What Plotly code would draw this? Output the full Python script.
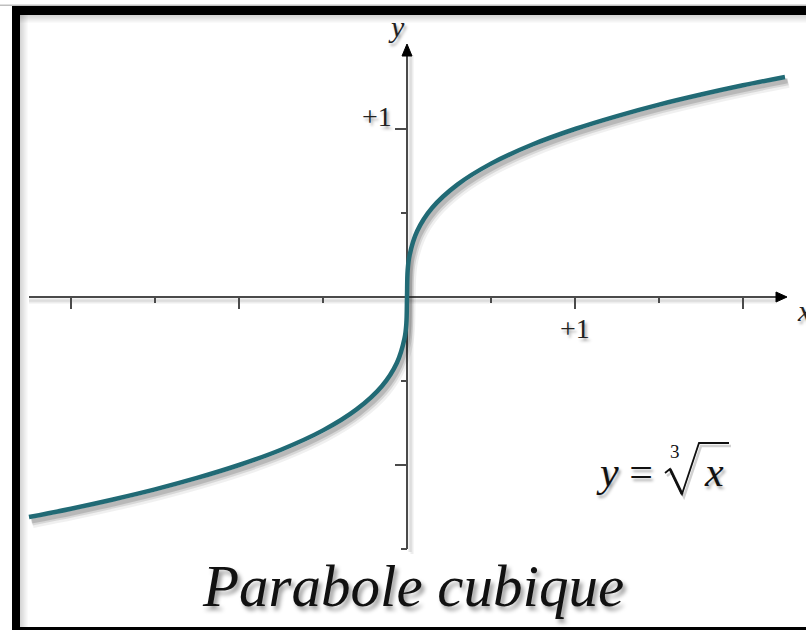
import numpy as np
import plotly.graph_objects as go

# Curve points (y = cube root of x)
curve_x = [-2.25, -2.0, -1.75, -1.5, -1.25, -1.0, -0.75, -0.5, -0.3, -0.15, -0.06, -0.015, -0.004,
           0.0, 0.004, 0.015, 0.06, 0.15, 0.3, 0.5, 0.75, 1.0, 1.25, 1.5, 1.75, 2.0, 2.25]
curve_y = [-1.31, -1.26, -1.205, -1.145, -1.077, -1.0, -0.909, -0.794, -0.669, -0.531, -0.391, -0.247, -0.159,
           0.0, 0.159, 0.247, 0.391, 0.531, 0.669, 0.794, 0.909, 1.0, 1.077, 1.145, 1.205, 1.26, 1.31]

x_ticks_long = [-2, -1, 1, 2]
x_ticks_short = [-1.5, -0.5, 0.5, 1.5]
y_ticks_long = [-1, 1]
y_ticks_short = [-1.5, -0.5, 0.5]
x_tick_label = "+1"
y_tick_label = "+1"
title_text = "Parabole cubique"

W, H = 806, 630
ox, oy, s = 407, 297, 168.0
xr = [-ox / s, (W - ox) / s]
yr = [(oy - H) / s, oy / s]
px = 1 / s  # one pixel in data units

def dx(p):
    return (p - ox) / s

def dy(p):
    return (oy - p) / s

FONT = "Liberation Serif"
axis_col = "#4a4a4a"
curve_col = "#216a75"

fig = go.Figure()

# curve shadow
cx = np.array(curve_x); cy = np.array(curve_y)
for off, a, w in [(6, 0.06, 10), (5, 0.10, 7), (4, 0.14, 5)]:
    fig.add_trace(go.Scatter(x=cx + off * 0.6 * px, y=cy - off * px, mode="lines",
                             line=dict(color=f"rgba(0,0,0,{a})", width=w, shape="spline"),
                             hoverinfo="skip", showlegend=False))
fig.add_trace(go.Scatter(x=curve_x, y=curve_y, mode="lines",
                         line=dict(color=curve_col, width=4.5, shape="spline"),
                         hoverinfo="skip", showlegend=False))

shapes = []
# axis shadows
for off, a in [(5, 0.07), (3, 0.10)]:
    shapes.append(dict(type="line", xref="x", yref="y", x0=-2.25, x1=2.2, y0=-off * px, y1=-off * px,
                       line=dict(color=f"rgba(0,0,0,{a})", width=3), layer="below"))
    shapes.append(dict(type="line", xref="x", yref="y", x0=off * px, x1=off * px, y0=-1.5 - off * px, y1=1.44,
                       line=dict(color=f"rgba(0,0,0,{a})", width=3), layer="below"))
# axes
shapes.append(dict(type="line", xref="x", yref="y", x0=-2.25, x1=2.21, y0=0, y1=0,
                   line=dict(color=axis_col, width=2), layer="below"))
shapes.append(dict(type="line", xref="x", yref="y", x0=0, x1=0, y0=-1.5, y1=1.45,
                   line=dict(color=axis_col, width=2), layer="below"))
# arrow heads
xt = dx(787)
shapes.append(dict(type="path", xref="x", yref="y",
                   path=f"M {xt} 0 L {xt - 11*px} {5*px} L {xt - 11*px} {-5*px} Z",
                   fillcolor="black", line=dict(color="black", width=1)))
yt = dy(44)
shapes.append(dict(type="path", xref="x", yref="y",
                   path=f"M 0 {yt} L {-5*px} {yt - 12*px} L {5*px} {yt - 12*px} Z",
                   fillcolor="black", line=dict(color="black", width=1)))
# ticks
for t in x_ticks_long:
    shapes.append(dict(type="line", xref="x", yref="y", x0=t, x1=t, y0=0, y1=-12 * px,
                       line=dict(color=axis_col, width=2), layer="below"))
for t in x_ticks_short:
    shapes.append(dict(type="line", xref="x", yref="y", x0=t, x1=t, y0=0, y1=-6 * px,
                       line=dict(color=axis_col, width=2), layer="below"))
for t in y_ticks_long:
    shapes.append(dict(type="line", xref="x", yref="y", x0=-12 * px, x1=0, y0=t, y1=t,
                       line=dict(color=axis_col, width=2), layer="below"))
for t in y_ticks_short:
    shapes.append(dict(type="line", xref="x", yref="y", x0=-6 * px, x1=0, y0=t, y1=t,
                       line=dict(color=axis_col, width=2), layer="below"))

# frame (black border top/left/bottom) with inner shadow
def pxr(x0, y0, x1, y1, color):
    return dict(type="rect", xref="paper", yref="paper",
                x0=x0 / W, x1=x1 / W, y0=1 - y1 / H, y1=1 - y0 / H,
                fillcolor=color, line=dict(width=0), layer="above")

for i in range(8):
    a = 0.16 * (1 - i / 8)
    shapes.append(pxr(20, 15 + i, W, 16 + i, f"rgba(0,0,0,{a:.3f})"))
    shapes.append(pxr(20 + i, 15, 21 + i, 627, f"rgba(0,0,0,{a:.3f})"))
shapes.append(pxr(12, 6, W, 15, "black"))
shapes.append(pxr(12, 6, 20, 630, "black"))
shapes.append(pxr(12, 627, W, 630, "black"))
shapes.append(pxr(0, 4.5, W, 6, "rgba(0,0,0,0.25)"))

shadow = "2px 3px 3px rgba(0,0,0,0.35)"
ann = []
ann.append(dict(x=1, y=dy(328), xref="x", yref="y", text=x_tick_label, showarrow=False,
                font=dict(family=FONT, size=28, color="#222", shadow=shadow)))
ann.append(dict(x=dx(394), y=dy(116), xref="x", yref="y", text=y_tick_label, showarrow=False,
                xanchor="right", font=dict(family=FONT, size=28, color="#222", shadow=shadow)))
ann.append(dict(x=dx(396), y=dy(26), xref="x", yref="y", text="<i>y</i>", showarrow=False,
                font=dict(family=FONT, size=30, color="#222", shadow=shadow)))
ann.append(dict(x=dx(795), y=dy(310), xref="x", yref="y", text="<i>x</i>", showarrow=False,
                xanchor="left", font=dict(family=FONT, size=30, color="#222", shadow=shadow)))

# formula y = ∛x, built from pieces (radical sign drawn as a path)
ff = dict(family=FONT, size=42, color="#111", shadow=shadow)
ann.append(dict(x=dx(655), y=dy(472), xref="x", yref="y", text="<i>y</i> =", showarrow=False,
                xanchor="right", font=ff))
ann.append(dict(x=dx(675), y=dy(451), xref="x", yref="y", text="3", showarrow=False,
                font=dict(family=FONT, size=19, color="#111")))
ann.append(dict(x=dx(702), y=dy(472), xref="x", yref="y", text="<i>x</i>", showarrow=False,
                xanchor="left", font=ff))
rad = [(665, 473), (670, 469), (682, 494), (699, 443), (729, 443)]
rad_shadow = " ".join(("M" if i == 0 else "L") + f" {dx(a + 2)} {dy(b + 3)}" for i, (a, b) in enumerate(rad))
rad_path = " ".join(("M" if i == 0 else "L") + f" {dx(a)} {dy(b)}" for i, (a, b) in enumerate(rad))
shapes.append(dict(type="path", xref="x", yref="y", path=rad_shadow,
                   line=dict(color="rgba(0,0,0,0.18)", width=2.5)))
shapes.append(dict(type="path", xref="x", yref="y", path=rad_path,
                   line=dict(color="#111", width=1.8)))
shapes.append(dict(type="line", xref="x", yref="y", x0=dx(670), x1=dx(682), y0=dy(469), y1=dy(494),
                   line=dict(color="#111", width=2.8)))

ann.append(dict(x=dx(413), y=dy(586), xref="x", yref="y", text="<i>" + title_text + "</i>",
                showarrow=False, font=dict(family=FONT, size=59, color="#111",
                                           shadow="3px 4px 4px rgba(0,0,0,0.4)")))

fig.update_layout(
    width=W, height=H, margin=dict(l=0, r=0, t=0, b=0),
    paper_bgcolor="white", plot_bgcolor="white",
    xaxis=dict(range=xr, visible=False, fixedrange=True),
    yaxis=dict(range=yr, visible=False, fixedrange=True),
    shapes=shapes, annotations=ann, showlegend=False,
)
fig.write_html("out.html", config={"displayModeBar": False},
               post_script="document.body.style.margin='0';document.body.style.overflow='hidden';")
